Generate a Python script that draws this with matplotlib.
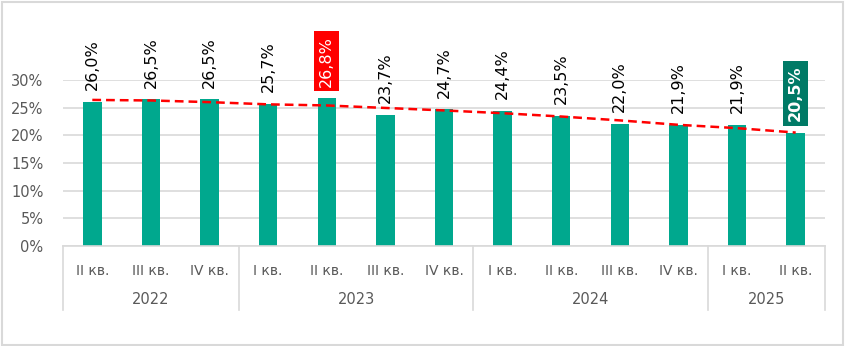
import matplotlib.pyplot as plt
from matplotlib.patches import Rectangle
from matplotlib.transforms import blended_transform_factory

# доля по кварталам, %
kvartaly = ["II кв.", "III кв.", "IV кв.",
            "I кв.", "II кв.", "III кв.", "IV кв.",
            "I кв.", "II кв.", "III кв.", "IV кв.",
            "I кв.", "II кв."]
znacheniya = [26.0, 26.5, 26.5, 25.7, 26.8, 23.7, 24.7, 24.4, 23.5, 22.0, 21.9, 21.9, 20.5]
# линия тренда
trend = [26.4, 26.3, 26.0, 25.6, 25.4, 24.95, 24.5, 24.0, 23.4, 22.7, 21.9, 21.3, 20.5]
gody = ["2022", "2023", "2024", "2025"]
kvartalov_v_godu = [3, 4, 4, 2]

zelenyi = "#00a88e"
seryi = "#595959"
linii = "#d9d9d9"

fig = plt.figure(figsize=(8.46, 3.46), dpi=100)
ax = fig.add_axes([63 / 846, 1 - 246 / 346, (825 - 63) / 846, (246 - 80) / 346])

x = list(range(len(znacheniya)))
ax.bar(x, znacheniya, width=0.315, color=zelenyi, zorder=2)
ax.plot(x, trend, color="red", linestyle=(0, (3.5, 2)), linewidth=1.8, zorder=3)

ax.set_xlim(-0.5, len(x) - 0.5)
ax.set_ylim(0, 30)
ax.set_yticks(range(0, 31, 5))
ax.set_yticklabels([f"{v}%" for v in range(0, 31, 5)], color=seryi, fontsize=10.5)
ax.tick_params(axis="y", length=0, pad=14)
ax.yaxis.grid(True, color=linii, linewidth=1.2, zorder=0)
ax.set_axisbelow(True)

ax.set_xticks(x)
ax.set_xticklabels(kvartaly, color=seryi, fontsize=10)
ax.tick_params(axis="x", length=0, pad=13)

for s in ["top", "right", "left"]:
    ax.spines[s].set_visible(False)
ax.spines["bottom"].set_color(linii)
ax.spines["bottom"].set_linewidth(1.2)

# подписи значений
for i, v in enumerate(znacheniya):
    txt = f"{v:.1f}%".replace(".", ",")
    if i == 4:
        ax.annotate(txt, (i, v), xytext=(0, 8), textcoords="offset points",
                    rotation=90, ha="center", va="bottom", color="white", fontsize=11.5,
                    bbox=dict(boxstyle="square,pad=0.3", fc="#ff0000", ec="none"), zorder=4)
    elif i == len(znacheniya) - 1:
        ax.annotate(txt, (i, v), xytext=(0, 8), textcoords="offset points",
                    rotation=90, ha="center", va="bottom", color="white", fontsize=11.5,
                    fontweight="bold",
                    bbox=dict(boxstyle="square,pad=0.3", fc="#007a66", ec="none"), zorder=4)
    else:
        ax.annotate(txt, (i, v), xytext=(0, 8.5), textcoords="offset points",
                    rotation=90, ha="center", va="bottom", color="black", fontsize=11.5,
                    annotation_clip=False)

# годы и разделители
trans = blended_transform_factory(ax.transData, ax.transAxes)
start = -0.5
ax.plot([start, start], [0, -0.386], transform=trans, color=linii, lw=1.2, clip_on=False)
for g, n in zip(gody, kvartalov_v_godu):
    end = start + n
    ax.plot([end, end], [0, -0.386], transform=trans, color=linii, lw=1.2, clip_on=False)
    ax.text((start + end) / 2, -0.325, g, transform=trans, ha="center", va="center",
            color=seryi, fontsize=10.5)
    start = end

# рамка
fig.patches.append(Rectangle((0.002, 0.004), 0.994, 0.991, transform=fig.transFigure,
                             fill=False, ec=linii, lw=1.5))

fig.savefig("out.png", dpi=100)
